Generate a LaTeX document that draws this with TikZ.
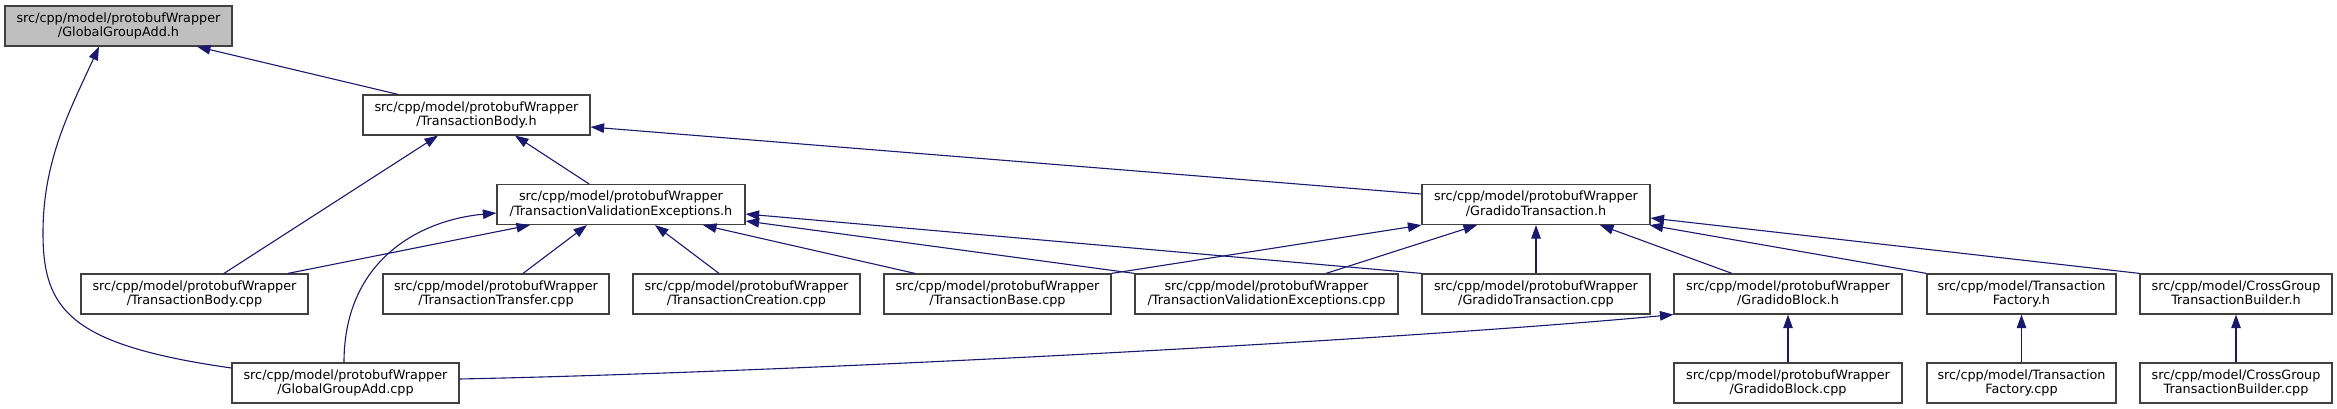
\documentclass[tikz,border=0pt]{standalone}
\usepackage{fontspec}
\setmainfont{DejaVu Sans}
\usetikzlibrary{arrows.meta}
\definecolor{edgeblue}{HTML}{191970}
\definecolor{boxline}{HTML}{404040}
\definecolor{rootfill}{HTML}{BFBFBF}
\newcommand{\lbl}[2]{#1\\#2\vphantom{/p}}
\begin{document}
\begin{tikzpicture}[x=1pt,y=-1pt,
  box/.style={draw=boxline, line width=1.2pt, fill=white, minimum height=40pt, inner sep=0pt,
    align=center, font=\fontsize{12.8}{14.7}\selectfont},
  rootbox/.style={box, fill=rootfill},
  edge/.style={draw=edgeblue, line width=1.1pt, -{Triangle[length=13.5pt,width=9.5pt,fill=edgeblue]}}]
\useasboundingbox (0,0) rectangle (2337,409);
\fill[white] (0,0) rectangle (2337,409);
% row 0
\node[rootbox, minimum width=227pt] (gga_h) at (118.5,26) {\lbl{src/cpp/model/protobufWrapper}{/GlobalGroupAdd.h}};
% row 1
\node[box, minimum width=227pt] (tb_h) at (476.5,115) {\lbl{src/cpp/model/protobufWrapper}{/TransactionBody.h}};
% row 2
\node[box, minimum width=248pt] (tve_h) at (621,204.5) {\lbl{src/cpp/model/protobufWrapper}{/TransactionValidationExceptions.h}};
\node[box, minimum width=228pt] (gt_h) at (1536,204.5) {\lbl{src/cpp/model/protobufWrapper}{/GradidoTransaction.h}};
% row 3
\node[box, minimum width=227pt] (tb_cpp) at (194.5,294) {\lbl{src/cpp/model/protobufWrapper}{/TransactionBody.cpp}};
\node[box, minimum width=226pt] (tt_cpp) at (496,294) {\lbl{src/cpp/model/protobufWrapper}{/TransactionTransfer.cpp}};
\node[box, minimum width=227pt] (tc_cpp) at (746.5,294) {\lbl{src/cpp/model/protobufWrapper}{/TransactionCreation.cpp}};
\node[box, minimum width=227pt] (tbase_cpp) at (997.5,294) {\lbl{src/cpp/model/protobufWrapper}{/TransactionBase.cpp}};
\node[box, minimum width=263pt] (tve_cpp) at (1266.5,294) {\lbl{src/cpp/model/protobufWrapper}{/TransactionValidationExceptions.cpp}};
\node[box, minimum width=228pt] (gt_cpp) at (1536,294) {\lbl{src/cpp/model/protobufWrapper}{/GradidoTransaction.cpp}};
\node[box, minimum width=228pt] (gb_h) at (1788,294) {\lbl{src/cpp/model/protobufWrapper}{/GradidoBlock.h}};
\node[box, minimum width=189pt] (tf_h) at (2021.5,294) {\lbl{src/cpp/model/Transaction}{Factory.h}};
\node[box, minimum width=192pt] (cg_h) at (2236,294) {\lbl{src/cpp/model/CrossGroup}{TransactionBuilder.h}};
% row 4
\node[box, minimum width=227pt] (gga_cpp) at (345.5,383) {\lbl{src/cpp/model/protobufWrapper}{/GlobalGroupAdd.cpp}};
\node[box, minimum width=228pt] (gb_cpp) at (1788,383) {\lbl{src/cpp/model/protobufWrapper}{/GradidoBlock.cpp}};
\node[box, minimum width=189pt] (tf_cpp) at (2021.5,383) {\lbl{src/cpp/model/Transaction}{Factory.cpp}};
\node[box, minimum width=192pt] (cg_cpp) at (2236,383) {\lbl{src/cpp/model/CrossGroup}{TransactionBuilder.cpp}};
% edges
\draw[edge] ([xshift=-78.5pt]tb_h.north) -- ([xshift=78.5pt]gga_h.south);
\draw[edge] ([yshift=15pt]gga_cpp.west) .. controls (70,345) and (43,310) .. (43,233) .. controls (43,160) and (70,110) .. ([xshift=-19.5pt]gga_h.south);
\draw[edge] ([xshift=29.5pt]tb_cpp.north) -- ([xshift=-38.5pt]tb_h.south);
\draw[edge] ([xshift=-32pt]tve_h.north) -- ([xshift=38.5pt]tb_h.south);
\draw[edge] ([yshift=10.5pt]gt_h.west) -- ([yshift=-12pt]tb_h.east);
\draw[edge] ([xshift=93.5pt]tb_cpp.north) -- ([xshift=-91pt]tve_h.south);
\draw[edge] ([xshift=-1.5pt]gga_cpp.north) .. controls (344,260) and (420,220) .. ([yshift=-8.5pt]tve_h.west);
\draw[edge] ([xshift=27pt]tt_cpp.north) -- ([xshift=-34pt]tve_h.south);
\draw[edge] ([xshift=-27.5pt]tc_cpp.north) -- ([xshift=34pt]tve_h.south);
\draw[edge] ([xshift=-82.5pt]tbase_cpp.north) -- ([xshift=82pt]tve_h.south);
\draw[edge] (tve_cpp.north west) -- ([yshift=-16.5pt]tve_h.east);
\draw[edge] (gt_cpp.north west) -- ([yshift=-9.5pt]tve_h.east);
\draw[edge] (tbase_cpp.north east) -- (gt_h.south west);
\draw[edge] ([xshift=59.5pt]tve_cpp.north) -- ([xshift=-59pt]gt_h.south);
\draw[edge] (gt_cpp.north) -- (gt_h.south);
\draw[edge] ([xshift=-56pt]gb_h.north) -- ([xshift=64pt]gt_h.south);
\draw[edge] (tf_h.north west) -- ([xshift=-1pt]gt_h.south east);
\draw[edge] (cg_h.north west) -- ([yshift=-13.5pt]gt_h.east);
\draw[edge] (gb_cpp.north) -- (gb_h.south);
\draw[edge] (tf_cpp.north) -- (tf_h.south);
\draw[edge] (cg_cpp.north) -- (cg_h.south);
\draw[edge] ([yshift=4pt]gga_cpp.east) .. controls (800,372) and (1400,340) .. (gb_h.south west);
\end{tikzpicture}
\end{document}
